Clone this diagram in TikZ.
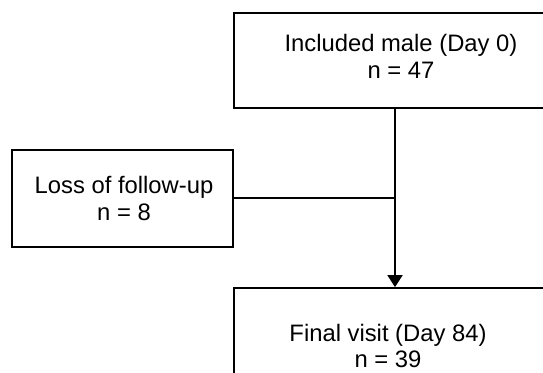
\documentclass[tikz,border=0pt]{standalone}
\usepackage{fontspec}
\setmainfont{Liberation Sans}
\usetikzlibrary{arrows.meta}
\begin{document}
\begin{tikzpicture}[x=1pt,y=-1pt,
  boxstyle/.style={draw=black,line width=1.7pt,rectangle,inner sep=0pt},
  txt/.style={align=center,anchor=base,inner sep=0pt,font=\fontsize{23.8}{26.5}\selectfont},
  conn/.style={draw=black,line width=1.7pt}]
\useasboundingbox (0,0) rectangle (543,372);
\clip (0,0) rectangle (543,372);
\node[boxstyle,minimum width=334pt,minimum height=95pt] (top) at (401,60.5) {};
\node[boxstyle,minimum width=221pt,minimum height=97pt] (left) at (122.5,198.5) {};
\node[boxstyle,minimum width=340pt,minimum height=150pt] (bot) at (404,363) {};
\node[txt] (toptext) at (401,78) {Included male (Day 0)\\n = 47};
\node[txt] (lefttext) at (124,220) {Loss of follow-up\\n = 8};
\node[txt] (bottext) at (388,367.5) {Final visit (Day 84)\\n = 39};
\coordinate (j) at (395,198);
\draw[conn] (left.east |- j) -- (j);
\draw[conn,-{Triangle[length=12pt,width=15pt]}] (j |- top.south) -- (j |- bot.north);
\end{tikzpicture}
\end{document}
